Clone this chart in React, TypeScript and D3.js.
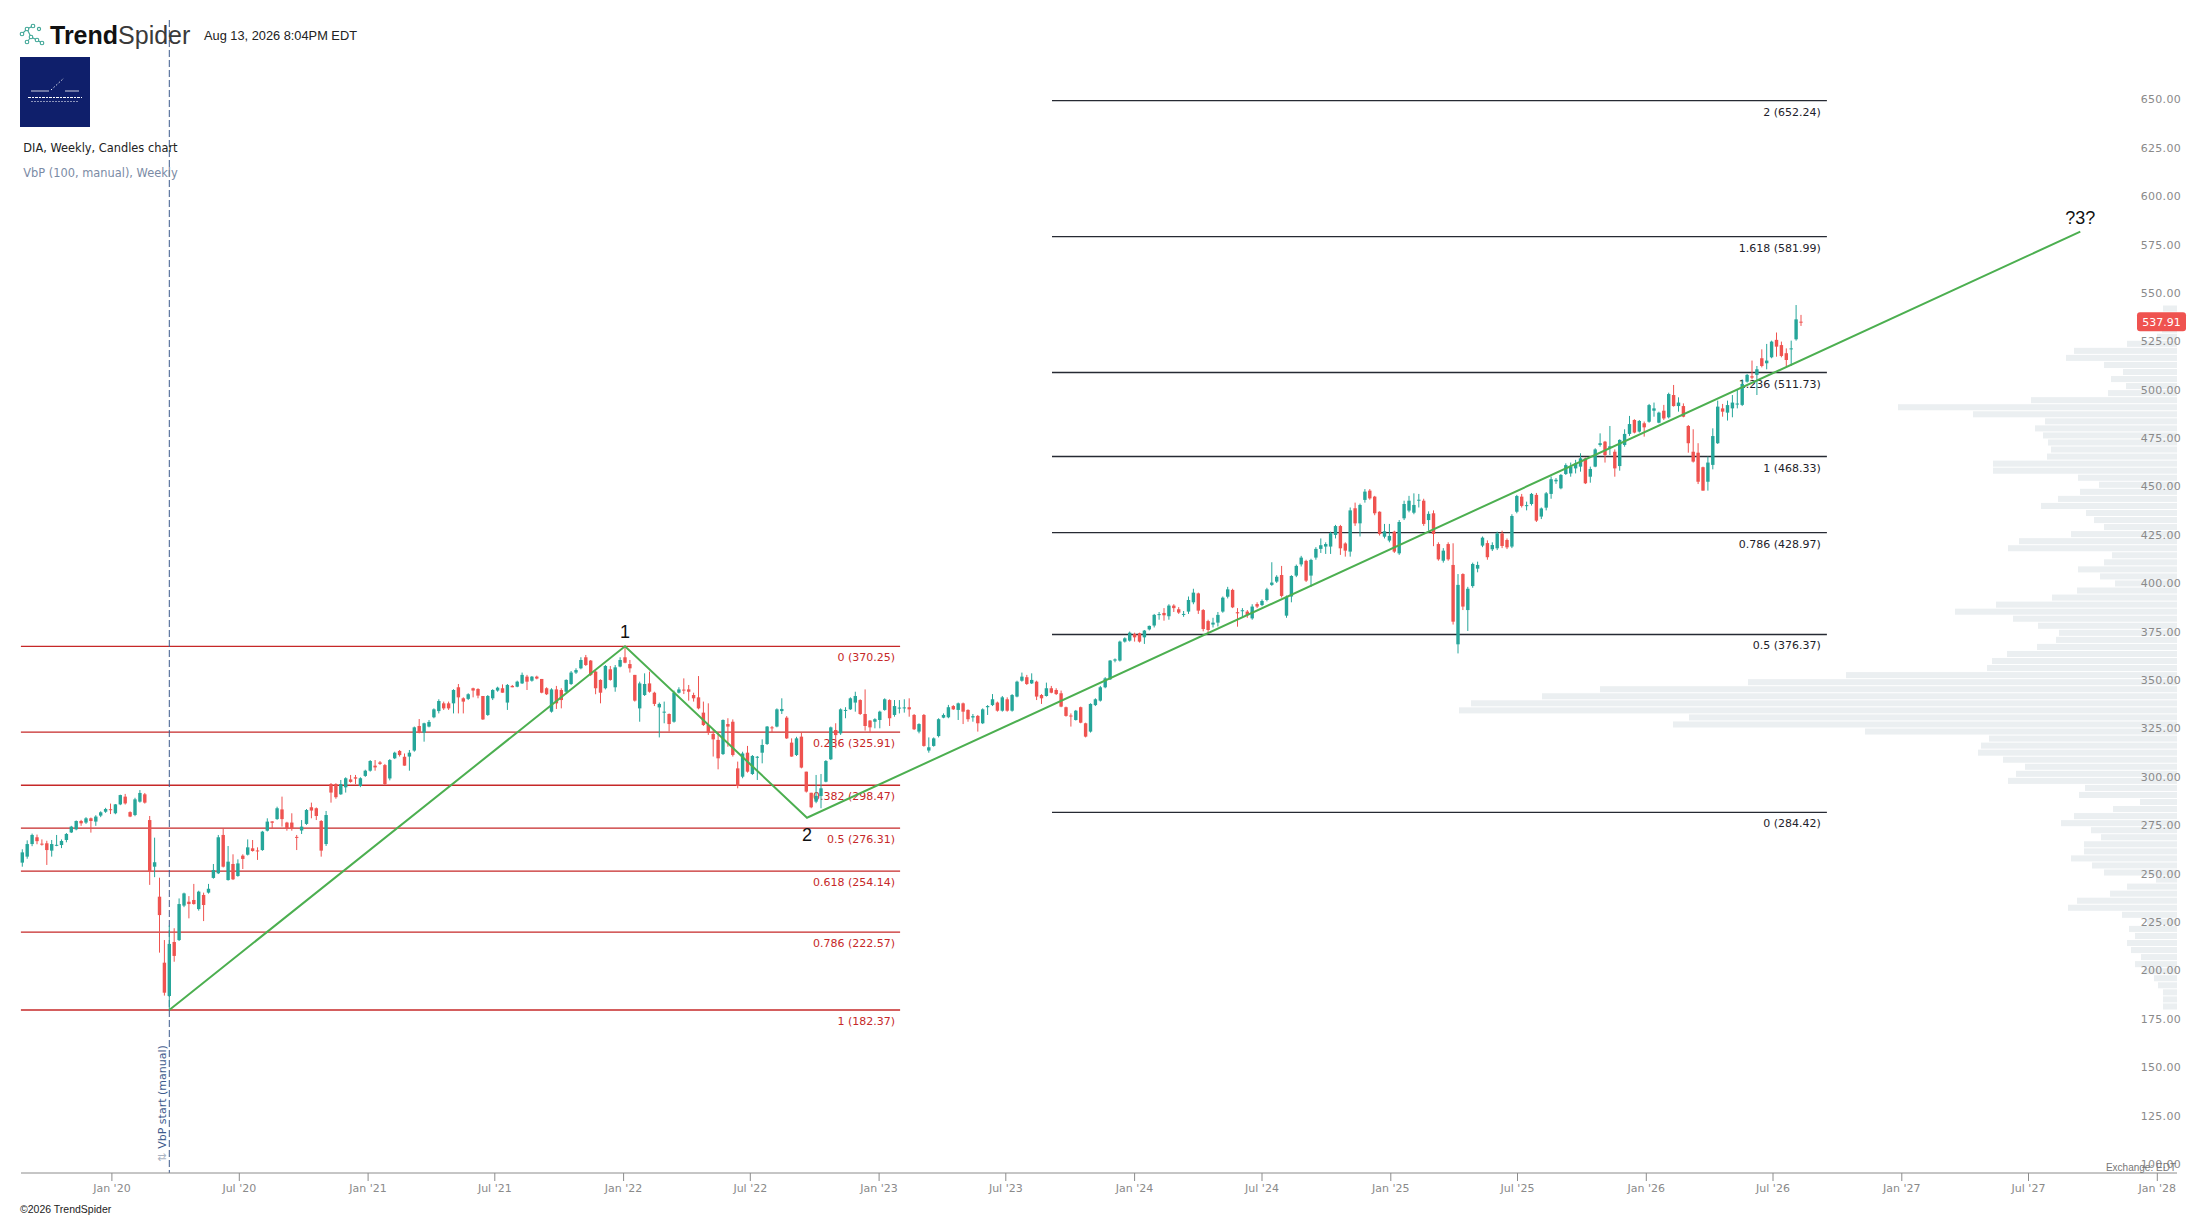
import React from "react";
import * as d3 from "d3";

// ---------- DATA ----------
// Weekly candles [open, high, low, close], first week starts Mon 2019-08-26
const FIRST_WEEK = Date.UTC(2019, 7, 26);

const weeks2019 = [
  [258.5,265.4,256.4,263.8],[261.6,270.0,260.5,268.1],[268.1,273.5,267.0,272.8],[271.6,273.0,268.0,269.6],
  [268.3,270.5,267.3,268.0],[268.5,269.8,257.3,265.0],[264.7,270.2,261.6,268.1],[267.4,272.8,267.0,267.7],
  [267.6,270.5,266.0,269.7],[270.2,273.8,269.0,273.3],[274.1,277.5,273.8,277.1],[275.7,280.3,275.2,280.0],
  [280.0,280.6,277.5,278.8],[279.2,282.0,278.5,281.4],[281.4,281.8,274.0,280.0],[279.7,283.0,277.5,282.3],
  [282.8,285.0,282.0,284.5],[284.8,286.8,284.2,286.2],
];
const weeks2020 = [
  [286.1,289.0,283.6,286.0],[284.0,288.8,283.5,288.6],[288.6,293.6,288.2,293.4],[292.6,294.0,288.5,289.1],
  [284.6,285.0,282.0,282.3],[283.1,292.0,282.5,291.2],[290.0,296.0,289.5,294.5],[293.8,294.5,289.0,289.5],
  [280.5,282.6,247.0,253.8],[256.4,271.4,251.0,258.7],[240.9,250.7,212.0,231.4],[206.8,218.5,189.8,191.3],
  [189.6,226.0,182.4,216.5],[217.5,224.6,207.3,210.3],[218.5,240.0,218.0,237.1],[236.3,243.0,235.5,242.6],
  [238.3,241.2,229.7,237.1],[239.2,247.5,236.8,237.1],[234.5,244.0,233.7,243.5],[241.8,243.0,228.3,236.6],
  [243.0,247.5,242.5,245.0],[250.6,257.8,250.2,254.7],[253.0,272.8,252.6,271.6],[272.8,276.2,256.0,256.4],
  [249.5,267.1,249.2,259.0],[257.8,262.8,249.5,249.9],[251.6,260.2,251.2,258.1],[262.1,262.8,255.2,260.4],
  [262.6,270.5,262.2,266.4],[265.9,270.2,264.2,264.5],[264.8,266.4,259.9,264.3],[265.0,274.9,264.6,274.5],
  [275.0,281.4,274.6,279.7],[279.8,279.9,276.2,279.1],[281.0,287.4,280.6,286.6],[286.0,292.6,277.1,281.0],
  [279.2,279.6,275.0,276.2],[279.2,284.0,275.0,276.2],[271.8,272.8,265.0,271.5],[275.1,280.5,273.3,277.1],
  [278.5,286.2,278.0,285.7],[287.1,289.5,281.4,285.4],[286.6,287.0,280.5,282.6],[280.0,280.5,261.6,264.7],
  [268.1,285.2,267.1,283.1],[299.1,299.6,289.5,294.7],[299.1,299.5,291.5,292.3],[293.8,301.2,293.5,299.1],
  [297.4,302.6,294.7,302.1],[301.5,303.8,299.8,300.2],[302.6,303.8,299.1,301.9],[298.1,302.6,297.5,302.1],
];
const weeks2021 = [
  [303.3,306.5,302.8,306.0],[306.0,311.5,305.5,311.0],[308.6,311.5,306.0,307.7],[310.3,311.0,309.0,309.5],
  [308.9,309.5,298.5,299.1],[302.0,312.0,301.0,311.5],[312.4,315.8,312.0,315.3],[316.2,316.7,313.3,314.1],
  [313.2,314.9,308.6,308.6],[313.3,316.7,306.0,315.3],[316.4,328.8,315.8,328.4],[329.1,332.7,325.3,325.6],
  [325.6,330.8,321.0,330.5],[328.8,332.2,328.4,331.2],[333.6,338.2,333.1,337.7],[336.8,342.9,335.6,342.0],
  [340.8,341.7,337.4,338.2],[340.8,341.7,337.4,338.2],[340.8,348.1,335.6,347.7],[349.1,350.8,335.6,343.9],
  [343.4,343.9,335.6,341.7],[343.1,346.0,342.5,345.5],[348.6,348.9,343.9,347.4],[348.2,348.6,343.4,344.8],
  [344.6,344.6,332.2,332.5],[334.8,345.1,334.3,344.6],[343.4,348.1,342.5,347.7],[347.4,349.4,346.8,348.9],
  [348.6,350.6,346.3,346.3],[341.2,350.8,337.4,350.3],[349.8,350.3,349.1,349.1],[349.4,352.5,349.1,352.0],
  [351.1,356.7,350.8,355.5],[354.6,355.5,347.7,352.0],[352.5,354.9,352.0,354.6],[354.6,355.1,353.2,353.6],
  [353.4,353.4,346.0,346.3],[348.6,349.1,345.1,345.5],[336.5,348.6,336.0,348.0],[348.0,349.8,337.9,340.8],
  [347.7,348.6,338.2,342.5],[346.8,353.2,346.0,352.9],[350.8,357.5,350.3,356.7],[356.7,358.9,356.0,358.0],
  [358.9,364.6,358.4,363.2],[364.6,365.8,360.1,360.6],[362.9,363.2,354.9,355.5],[357.2,357.7,345.5,348.6],
  [352.9,353.2,340.8,346.3],[348.6,360.6,348.0,360.1],[358.4,360.1,352.5,352.9],[349.1,360.6,346.8,359.4],
];
const weeks2022 = [
  [359.8,364.6,359.4,363.2],[364.6,369.6,361.5,361.8],[361.1,363.2,356.7,358.9],[355.5,355.5,341.7,342.2],
  [338.2,352.0,331.3,351.1],[345.1,356.3,344.6,350.8],[351.1,357.2,346.3,346.8],[346.3,346.8,339.4,340.5],
  [338.7,341.2,323.2,340.5],[336.2,341.7,330.5,336.5],[335.3,335.6,326.2,330.1],[331.3,347.4,330.8,346.3],
  [346.3,349.1,345.9,348.0],[347.9,353.7,345.6,347.7],[348.0,350.3,342.2,346.8],[345.1,346.3,341.7,343.4],
  [343.9,354.9,337.7,338.2],[336.0,341.7,329.1,329.6],[329.6,340.8,324.5,325.7],[325.0,327.0,313.3,322.2],
  [321.9,325.3,306.7,312.4],[314.6,332.5,314.1,332.2],[330.1,333.1,318.4,328.8],[331.3,332.5,313.3,314.1],
  [307.2,310.7,296.9,298.1],[302.9,315.8,302.1,314.9],[315.3,318.8,305.0,305.5],[304.3,314.1,303.8,313.6],
  [312.9,313.6,301.2,313.2],[315.3,322.2,309.8,319.3],[319.8,329.1,319.3,328.8],[328.4,329.1,325.7,328.1],
  [328.8,338.2,328.4,337.7],[336.8,343.4,335.3,337.9],[333.4,334.2,322.4,322.7],[320.5,322.7,313.2,313.3],
  [314.1,323.5,313.6,322.7],[323.6,325.7,307.2,307.6],[305.5,305.5,294.7,295.2],[294.6,294.6,286.6,287.1],
  [290.0,303.8,289.2,293.0],[292.9,304.3,286.6,296.9],[300.3,311.5,300.0,311.0],[311.9,328.8,311.5,328.4],
  [327.0,330.5,317.6,324.4],[325.3,338.2,324.5,337.7],[337.1,338.8,333.1,337.4],[337.7,343.9,337.4,343.4],
  [341.2,346.8,336.5,344.6],[342.5,342.9,334.8,335.3],[335.3,348.0,326.7,329.1],[331.9,332.2,325.7,328.4],
];
const weeks2023 = [
  [331.3,333.1,327.9,332.6],[332.2,337.0,327.9,336.5],[337.4,343.4,337.0,342.9],[342.5,342.9,329.1,333.1],
  [334.8,342.5,333.9,339.4],[338.3,342.5,335.6,338.6],[338.4,342.9,336.0,338.7],[338.8,343.4,333.9,337.7],
  [334.8,335.3,327.0,327.4],[326.2,330.5,325.3,330.1],[334.8,335.3,318.4,318.8],[316.4,323.2,315.3,318.1],
  [318.8,323.2,318.4,322.7],[323.9,333.1,323.2,332.6],[333.4,335.6,333.1,334.8],[333.6,340.0,333.1,338.8],
  [339.4,339.9,337.4,337.7],[337.4,341.2,332.2,340.8],[340.8,341.2,330.1,336.5],[337.4,337.7,331.3,332.6],
  [333.5,335.3,331.3,334.2],[334.3,334.8,326.2,330.5],[330.5,338.2,330.1,337.7],[338.8,339.9,334.8,339.4],
  [339.9,345.6,339.4,342.9],[341.2,341.7,336.5,337.0],[337.0,344.6,336.5,343.9],[342.9,343.9,336.5,337.0],
  [337.0,345.6,336.5,345.1],[344.3,352.5,343.9,352.0],[352.5,356.7,352.0,354.6],[354.3,355.5,350.3,350.8],
  [351.1,356.3,350.8,352.9],[352.0,352.5,342.5,344.3],[345.1,345.6,340.5,343.4],[344.6,351.5,344.3,348.6],
  [348.6,349.8,346.0,346.3],[347.7,348.6,345.1,345.6],[346.0,347.4,338.8,339.1],[338.8,339.1,333.9,334.3],
  [334.5,335.6,328.8,334.1],[332.2,337.4,331.9,337.0],[338.8,339.1,330.5,330.8],[330.5,330.8,323.2,323.6],
  [326.2,340.8,325.7,340.5],[339.9,343.4,339.4,342.9],[342.2,349.8,341.7,349.1],[349.1,354.3,348.6,353.7],
  [353.2,363.2,352.9,362.9],[362.9,364.0,362.0,363.5],[362.9,373.2,362.4,372.7],[372.7,374.9,372.2,374.4],
];
const weeks2024 = [
  [373.2,377.9,372.7,377.3],[376.6,377.3,372.7,374.9],[377.0,377.3,372.2,372.7],[374.9,378.7,371.5,378.4],
  [379.0,381.0,378.5,380.8],[381.0,387.0,380.0,386.5],[386.5,388.0,384.0,386.9],[387.5,390.0,383.5,386.3],
  [385.8,392.0,384.0,391.3],[391.3,392.0,388.0,390.0],[389.4,390.5,387.0,387.7],[386.8,388.5,385.5,387.0],
  [388.2,396.0,387.0,394.2],[393.0,400.0,392.0,398.0],[397.6,398.0,387.0,388.7],[389.0,389.5,378.0,379.2],
  [383.3,384.0,376.6,378.7],[381.5,385.0,380.0,382.5],[382.5,388.0,380.5,386.5],[388.2,396.0,387.6,395.4],
  [395.9,401.0,395.0,399.7],[399.4,400.0,390.0,390.4],[387.9,390.0,380.4,387.3],[388.4,390.0,385.0,388.9],
  [388.2,389.0,385.0,386.4],[384.7,392.0,384.0,390.8],[392.1,393.0,390.0,390.8],[391.6,394.5,391.0,393.7],
  [394.2,400.5,393.5,399.7],[402.0,413.7,401.5,403.2],[403.7,407.0,403.0,406.2],[407.1,411.8,395.5,396.3],
  [386.1,396.5,385.0,395.9],[396.0,407.0,393.0,406.6],[406.8,412.5,406.0,411.8],[412.6,417.0,411.5,416.1],
  [414.4,415.0,403.5,404.2],[406.8,415.5,401.0,414.9],[416.1,421.5,415.0,420.6],[420.6,426.0,418.5,422.5],
  [421.8,424.0,418.0,423.1],[421.8,429.5,418.0,428.7],[427.8,433.0,426.0,432.4],[432.4,433.0,417.5,420.9],
  [423.4,424.0,416.6,419.7],[419.2,442.0,416.6,440.5],[441.6,444.5,432.5,433.8],[433.8,444.0,427.0,443.3],
  [445.9,451.5,444.5,450.2],[450.7,451.5,446.0,446.7],[447.6,448.0,438.0,439.0],[439.8,440.0,427.5,428.3],
  [426.9,433.5,426.0,429.7],
];
const weeks2025 = [
  [424.9,433.5,424.0,427.3],[429.5,430.0,418.5,419.2],[418.3,435.5,417.5,434.5],[436.4,445.5,435.5,443.8],
  [440.4,448.0,439.5,445.5],[439.3,449.3,438.5,443.3],[445.7,449.0,442.0,446.0],[445.5,446.5,432.5,433.5],
  [435.5,440.0,430.0,438.7],[439.0,440.5,422.0,428.3],[423.1,424.0,414.5,415.2],[414.5,421.0,413.5,419.7],
  [423.1,424.0,414.5,415.2],[412.3,423.5,381.5,383.0],[371.3,407.6,366.6,402.0],[407.6,408.0,389.0,390.8],
  [389.0,401.0,378.2,400.0],[401.4,413.5,400.5,412.8],[410.4,414.0,408.5,412.3],[422.3,427.0,421.5,426.4],
  [423.6,425.0,415.0,416.3],[420.4,424.0,419.5,422.6],[420.9,429.5,420.0,428.6],[428.6,430.0,421.0,422.1],
  [425.2,426.0,420.5,421.4],[421.8,438.5,421.0,437.6],[439.8,448.5,439.0,447.9],[447.6,449.0,442.0,442.8],
  [443.0,445.0,440.5,443.2],[443.8,449.5,443.0,449.0],[448.5,449.5,434.5,435.2],[437.3,442.0,436.0,441.5],
  [441.9,450.0,440.5,449.3],[449.0,458.0,446.5,456.6],[455.5,457.2,454.2,456.3],[451.9,459.3,451.4,458.8],
  [459.3,464.8,458.8,463.9],[459.6,465.2,457.9,463.1],[462.2,466.6,459.6,464.8],[463.1,470.0,460.5,467.4],
  [467.4,467.8,454.1,454.5],[457.9,463.1,454.8,461.9],[463.1,472.6,462.8,472.0],[474.3,480.3,473.4,475.2],
  [476.0,476.4,465.2,469.1],[472.7,484.1,469.1,473.6],[470.8,472.0,457.9,462.2],[463.4,477.2,461.0,476.9],
  [474.3,482.4,473.4,480.0],[480.0,489.3,479.0,485.1],[487.2,487.6,480.3,480.7],[481.2,487.2,480.7,486.7],
];
const weeks2026 = [
  [485.5,486.4,478.6,483.4],[486.3,495.5,485.8,494.9],[492.0,496.2,488.9,493.2],[485.8,491.5,485.5,491.0],
  [492.0,495.0,487.2,488.0],[488.6,501.3,488.0,500.6],[500.1,505.3,494.1,494.4],[494.4,498.9,491.5,496.2],
  [494.4,495.8,488.6,488.9],[484.1,484.6,470.3,475.2],[470.8,482.4,465.2,465.7],[470.3,475.2,454.1,455.3],
  [462.8,463.1,450.7,450.7],[455.3,468.3,450.7,465.2],[464.0,482.9,461.7,478.9],[475.2,497.2,474.8,494.1],
  [493.2,495.5,488.9,491.5],[491.0,497.2,486.9,494.9],[493.2,500.1,488.6,496.2],[495.5,502.7,493.2,495.7],
  [495.0,508.2,494.4,505.8],[507.0,511.0,506.5,510.5],[509.8,517.9,508.2,509.1],[510.5,515.1,500.1,513.4],
  [519.1,523.7,514.4,515.1],[516.5,526.5,513.4,517.9],[519.6,528.2,519.1,527.7],[528.6,532.4,519.9,525.1],
  [525.9,527.7,519.6,520.3],[521.7,524.2,514.4,518.2],[524.0,528.2,515.1,524.2],[528.9,546.6,528.2,539.2],
  [538.0,541.5,535.8,537.91],
];

// Fibonacci retracement (red) and extension (black) levels
const retraceLevels = [0, 0.236, 0.382, 0.5, 0.618, 0.786, 1];
const retracePrices = [370.25, 325.91, 298.47, 276.31, 254.14, 222.57, 182.37];
const extensionLevels = [2, 1.618, 1.236, 1, 0.786, 0.5, 0];
const extensionPrices = [652.24, 581.99, 511.73, 468.33, 428.97, 376.37, 284.42];

// Wave path (green)
const waveDates = [Date.UTC(2020, 2, 23), Date.UTC(2022, 0, 3), Date.UTC(2022, 8, 20), Date.UTC(2027, 8, 13)];
const wavePrices = [182.37, 370.25, 281.7, 584.5];
const waveLabels = ["", "1", "2", "?3?"];

// Volume by price (100 bins, relative volume), bottom bin first
const vbpLow = 182.37;
const vbpHigh = 546.6;
const vbpVolume = [
  14, 14, 14, 19, 23, 33, 42, 36, 46, 50,
  42, 48, 30, 55, 109, 100, 67, 50, 21, 73,
  85, 106, 93, 93, 76, 86, 116, 103, 64, 37,
  98, 92, 169, 161, 152, 174, 199, 196, 188, 312,
  504, 488, 718, 706, 635, 577, 429, 331, 190, 185,
  170, 140, 121, 118, 139, 164, 222, 181, 125, 100,
  62, 77, 99, 73, 65, 169, 158, 106, 73, 83,
  91, 136, 119, 97, 78, 99, 184, 184, 130, 126,
  129, 134, 142, 132, 204, 279, 146, 69, 51, 66,
  54, 73, 111, 103, 50, 20, 15, 10, 10, 14,
];

const yTicks = [100, 125, 150, 175, 200, 225, 250, 275, 300, 325, 350, 375, 400, 425, 450, 475, 500, 525, 550, 575, 600, 625, 650];
const lastPrice = 537.91;
const vbpStart = Date.UTC(2020, 2, 23);
const retraceSpan = [Date.UTC(2019, 7, 24), Date.UTC(2023, 0, 31)];
const extensionSpan = [Date.UTC(2023, 8, 5), Date.UTC(2026, 8, 16)];

// ---------- CHART ----------
const W = 2207;
const H = 1219;
const UP = "#26a69a";
const DOWN = "#ef5350";
const FONT = "'DejaVu Sans', Verdana, sans-serif";

export default function App() {
  const WEEK = 7 * 864e5;
  const all = [...weeks2019, ...weeks2020, ...weeks2021, ...weeks2022, ...weeks2023, ...weeks2024, ...weeks2025, ...weeks2026];
  const candles = all.map((c, i) => ({ date: new Date(FIRST_WEEK + i * WEEK), o: c[0], h: c[1], l: c[2], c: c[3] }));

  const endDate = Date.UTC(2028, 0, 1);
  const days = (endDate - FIRST_WEEK) / 864e5;
  const x = d3.scaleUtc().domain([new Date(FIRST_WEEK), new Date(endDate)]).range([22.3, 22.3 + days * 0.7]);
  const y = d3.scaleLinear().domain([100, 650]).range([1169.4, 104.9]);

  const plotRight = 2177;
  const axisY = 1173;
  const bw = 3.4;

  const monthTicks = d3.utcMonth.every(6)!.range(new Date(Date.UTC(2020, 0, 1)), new Date(Date.UTC(2028, 0, 2)));
  const fmtMonth = d3.utcFormat("%b '%y");

  const binSize = (vbpHigh - vbpLow) / vbpVolume.length;
  const vx = d3.scaleLinear().domain([0, d3.max(vbpVolume)!]).range([0, 718]);

  const waveLine = d3.line<number>().x((_, i) => x(new Date(waveDates[i]))).y((p) => y(p));

  return (
    <div style={{ position: "fixed", left: 0, top: 0, width: W, height: H, background: "#fff" }}>
      <svg width={W} height={H} style={{ display: "block" }} fontFamily={FONT}>
        <rect x={0} y={0} width={W} height={H} fill="#fff" />

        {/* Volume by price */}
        <g>
          {vbpVolume.map((v, k) => {
            const lo = vbpLow + k * binSize;
            const hi = lo + binSize;
            const len = vx(v);
            return (
              <rect key={k} x={plotRight - len} y={y(hi) + 0.5} width={len} height={Math.max(0.5, y(lo) - y(hi) - 1)} fill="#ebeff1" />
            );
          })}
        </g>

        {/* Fibonacci retracement (red) */}
        <g>
          {retracePrices.map((p, i) => (
            <g key={i}>
              <line x1={x(new Date(retraceSpan[0]))} x2={x(new Date(retraceSpan[1]))} y1={y(p)} y2={y(p)} stroke="#c62828" strokeWidth={1.3} />
              <text x={x(new Date(retraceSpan[1])) - 5} y={y(p) + 15} textAnchor="end" fontSize={11} fill="#c62828">
                {`${retraceLevels[i]} (${p.toFixed(2)})`}
              </text>
            </g>
          ))}
        </g>

        {/* Fibonacci extension (black) */}
        <g>
          {extensionPrices.map((p, i) => (
            <g key={i}>
              <line x1={x(new Date(extensionSpan[0]))} x2={x(new Date(extensionSpan[1]))} y1={y(p)} y2={y(p)} stroke="#262a33" strokeWidth={1.3} />
              <text x={x(new Date(extensionSpan[1])) - 6} y={y(p) + 15} textAnchor="end" fontSize={11} fill="#1e222b">
                {`${extensionLevels[i]} (${p.toFixed(2)})`}
              </text>
            </g>
          ))}
        </g>

        {/* VbP start marker */}
        <line x1={x(new Date(vbpStart))} x2={x(new Date(vbpStart))} y1={20} y2={axisY} stroke="#3d5a8c" strokeWidth={1} strokeDasharray="7,3" />
        <g transform={`translate(${x(new Date(vbpStart)) - 3.5},1162) rotate(-90)`}>
          <text x={0} y={0} fontSize={11} fill="#3d5a8c">
            <tspan fill="#aab4c4">⇅</tspan>
            <tspan dx={4}>VbP start (manual)</tspan>
          </text>
        </g>

        {/* Candles */}
        <g>
          {candles.map((d, i) => {
            const cx = x(d.date);
            const up = d.c >= d.o;
            const col = up ? UP : DOWN;
            const top = y(Math.max(d.o, d.c));
            const bot = y(Math.min(d.o, d.c));
            return (
              <g key={i}>
                <line x1={cx} x2={cx} y1={y(d.h)} y2={y(d.l)} stroke={col} strokeWidth={1} />
                <rect x={cx - bw / 2} y={top} width={bw} height={Math.max(1, bot - top)} fill={col} />
              </g>
            );
          })}
        </g>

        {/* Wave lines */}
        <path d={waveLine(wavePrices) || ""} fill="none" stroke="#4caf50" strokeWidth={2} strokeLinejoin="miter" />
        <text x={x(new Date(waveDates[1]))} y={y(wavePrices[1]) - 8} textAnchor="middle" fontSize={18} fontFamily="'Liberation Sans', Arial, sans-serif" fill="#111">
          {waveLabels[1]}
        </text>
        <text x={x(new Date(waveDates[2]))} y={y(wavePrices[2]) + 23} textAnchor="middle" fontSize={18} fontFamily="'Liberation Sans', Arial, sans-serif" fill="#111">
          {waveLabels[2]}
        </text>
        <text x={x(new Date(waveDates[3]))} y={y(wavePrices[3]) - 8} textAnchor="middle" fontSize={18} fontFamily="'Liberation Sans', Arial, sans-serif" fill="#111">
          {waveLabels[3]}
        </text>

        {/* Y axis labels */}
        <g>
          {yTicks.map((t) => (
            <text key={t} x={2181} y={y(t) - 1.5} textAnchor="end" fontSize={11} fill="#8a8a8a" letterSpacing={0.3}>
              {t.toFixed(2)}
            </text>
          ))}
        </g>

        {/* Last price badge */}
        <rect x={2137} y={y(lastPrice) - 9.5} width={49} height={19} rx={3} fill="#ef5350" />
        <text x={2161.5} y={y(lastPrice) + 4} textAnchor="middle" fontSize={11} fill="#fff">
          {lastPrice.toFixed(2)}
        </text>

        {/* X axis */}
        <line x1={21} x2={plotRight} y1={axisY} y2={axisY} stroke="#8c8c8c" strokeWidth={1} />
        {monthTicks.map((t, i) => (
          <g key={i}>
            <line x1={x(t)} x2={x(t)} y1={axisY} y2={axisY + 8} stroke="#8c8c8c" strokeWidth={1} />
            <text x={x(t)} y={1192} textAnchor="middle" fontSize={11} fill="#8a8a8a">
              {fmtMonth(t)}
            </text>
          </g>
        ))}
        <text x={2176} y={1171} textAnchor="end" fontSize={10} fontFamily="'Liberation Sans', Arial, sans-serif" fill="#777">
          Exchange: EDT
        </text>
        <text x={20} y={1213} fontSize={10.5} fontFamily="'Liberation Sans', Arial, sans-serif" fill="#222">
          ©2026 TrendSpider
        </text>

        {/* Header */}
        <g stroke="#3fa696" strokeWidth={1.1} fill="none">
          <line x1={22} y1={34} x2={27} y2={29} />
          <line x1={27} y1={29} x2={33} y2={26} />
          <line x1={27} y1={29} x2={31} y2={37} />
          <line x1={31} y1={37} x2={27} y2={42} />
          <line x1={31} y1={37} x2={37} y2={40} />
          <line x1={37} y1={40} x2={42} y2={43} />
          <circle cx={22} cy={34} r={1.8} fill="#fff" />
          <circle cx={27} cy={29} r={1.8} fill="#fff" />
          <circle cx={33} cy={26} r={1.8} fill="#fff" />
          <circle cx={39} cy={29} r={1.6} fill="#fff" />
          <circle cx={31} cy={37} r={1.8} fill="#fff" />
          <circle cx={27} cy={42} r={1.8} fill="#fff" />
          <circle cx={37} cy={40} r={1.8} fill="#fff" />
          <circle cx={42} cy={43} r={1.8} fill="#fff" />
        </g>
        <text x={50} y={43.5} fontSize={25} fontFamily="'Liberation Sans', Arial, sans-serif" fill="#111">
          <tspan fontWeight="bold">Trend</tspan>
          <tspan fontWeight={300} fill="#3a3a3a">Spider</tspan>
        </text>
        <text x={204} y={39.5} fontSize={12.8} fontFamily="'Liberation Sans', Arial, sans-serif" fill="#222">
          Aug 13, 2026 8:04PM EDT
        </text>

        <rect x={20} y={57} width={70} height={70} fill="#0f1f6b" />
        <line x1={31} x2={49} y1={91} y2={91} stroke="#fff" strokeWidth={0.8} />
        <line x1={65} x2={79} y1={91} y2={91} stroke="#fff" strokeWidth={0.8} />
        <line x1={51} x2={64} y1={90} y2={78} stroke="#fff" strokeWidth={0.9} strokeDasharray="1.5,2" />
        <line x1={28} x2={82} y1={97.5} y2={97.5} stroke="#fff" strokeWidth={1} strokeDasharray="3,1,2,1" />
        <line x1={31} x2={78} y1={101.5} y2={101.5} stroke="#dfe3f0" strokeWidth={0.6} strokeDasharray="2,1" />

        <text x={23.3} y={151.7} fontSize={11.4} fill="#222">
          DIA, Weekly, Candles chart
        </text>
        <text x={23.3} y={177.3} fontSize={11.4} fill="#7b8ba5">
          VbP (100, manual), Weekly
        </text>
      </svg>
    </div>
  );
}
